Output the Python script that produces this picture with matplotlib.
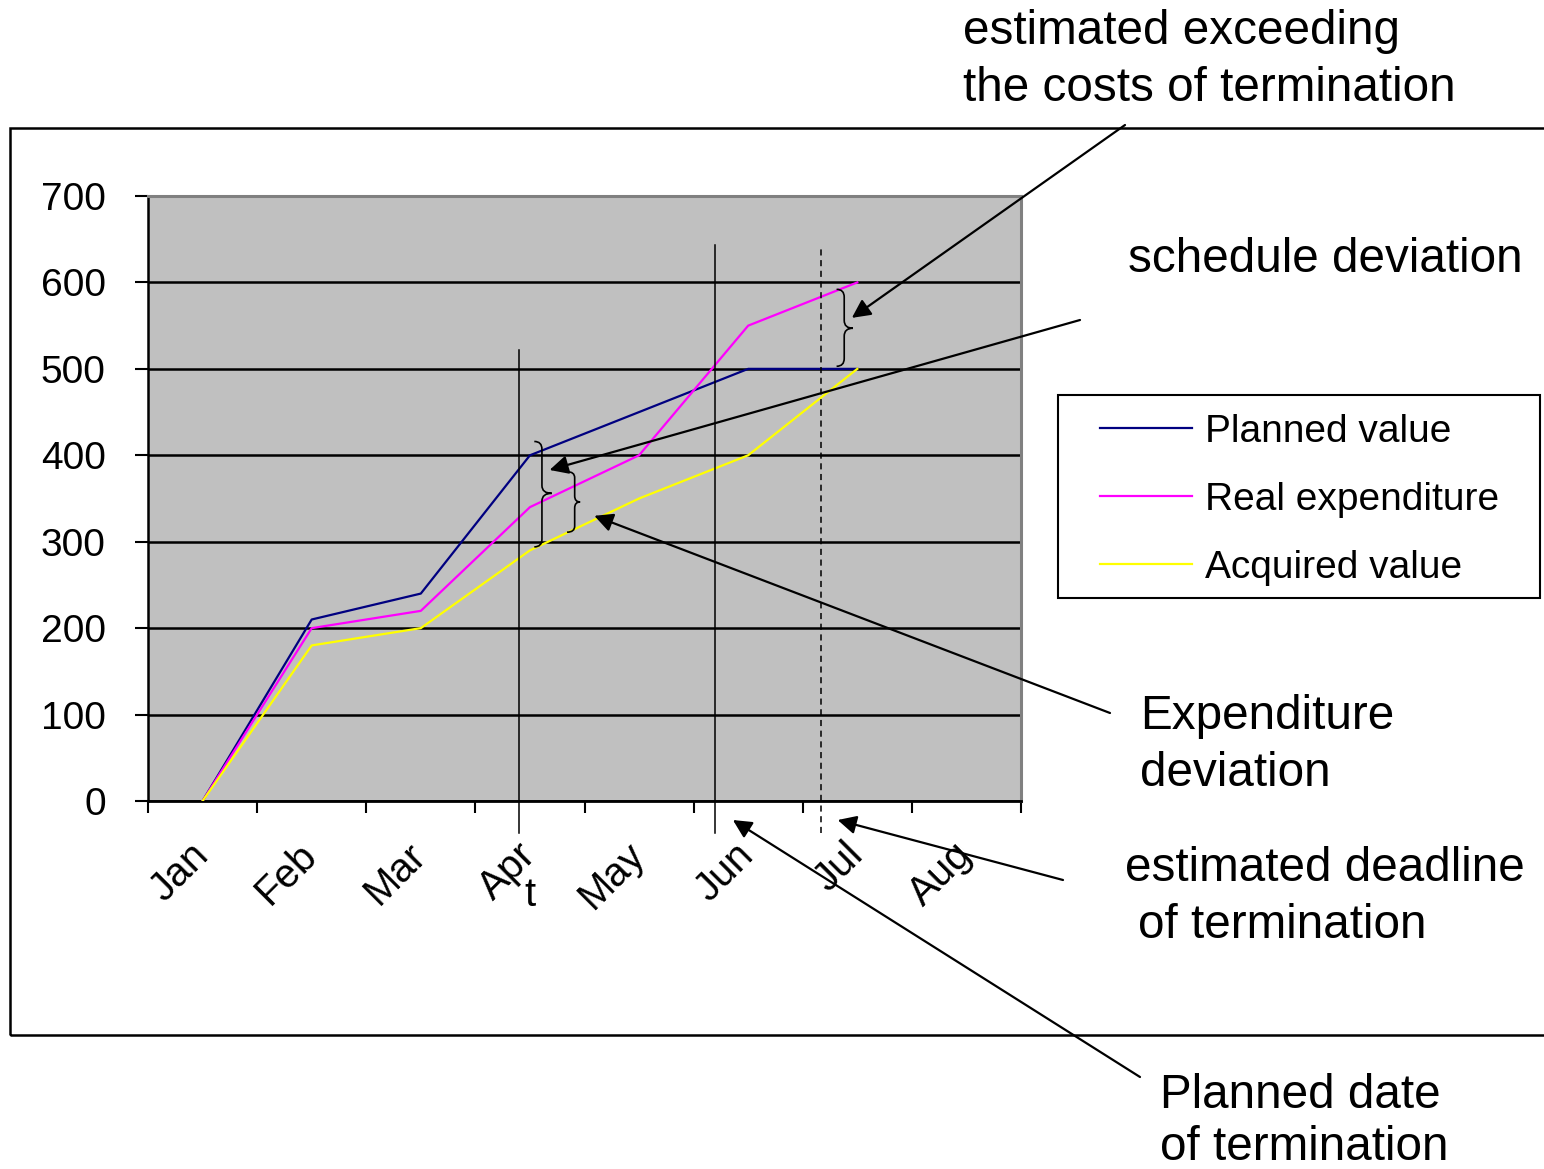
import numpy as np
import matplotlib.pyplot as plt
from matplotlib.path import Path
from matplotlib.patches import PathPatch, Rectangle
from matplotlib.transforms import ScaledTranslation

plt.rcParams['font.family'] = ['Liberation Sans', 'DejaVu Sans']

W, H = 1544, 1169

months = ['Jan', 'Feb', 'Mar', 'Apr', 'May', 'Jun', 'Jul', 'Aug']
planned = [0, 210, 240, 400, 450, 500, 500]
real = [0, 200, 220, 340, 400, 550, 600]
acquired = [0, 180, 200, 290, 350, 400, 500]
series_names = ['Planned value', 'Real expenditure', 'Acquired value']
series_colors = ['#000080', '#FF00FF', '#FFFF00']

# vertical markers: time t, planned end, estimated end (x in month units)
mark_x = [2.9, 4.7, 5.67]
mark_top = [522, 643, 643]
mark_bottom = -37


def px(x, y):
    # figure pixels measured from the top-left corner
    return (x, H - y)


def brace(ax, x, xv, xt, y0, ym, y1, r=9):
    verts = [(x, y1), (xv, y1), (xv, y1 - r),
             (xv, ym + r),
             (xv, ym), (xt, ym),
             (xv, ym), (xv, ym - r),
             (xv, y0 + r),
             (xv, y0), (x, y0)]
    codes = [Path.MOVETO, Path.CURVE3, Path.CURVE3, Path.LINETO,
             Path.CURVE3, Path.CURVE3, Path.CURVE3, Path.CURVE3,
             Path.LINETO, Path.CURVE3, Path.CURVE3]
    ax.add_patch(PathPatch(Path(verts, codes), fill=False, lw=1.2,
                           color='black', zorder=5))


fig = plt.figure(figsize=(W / 100, H / 100), dpi=100)
ax = fig.add_axes([148 / W, 1 - 801 / H, 873 / W, 605 / H])
ax.set_facecolor('#C0C0C0')

# outer chart frame
fig.patches.append(Rectangle((10 / W, 1 - 1035 / H), 1.1, 907 / H,
                             transform=fig.transFigure, fill=False,
                             lw=1.8, ec='black'))

x = np.arange(len(planned))
lines = []
for vals, name, col in zip([planned, real, acquired], series_names, series_colors):
    ln, = ax.plot(x, vals, color=col, lw=1.6, label=name, zorder=3)
    lines.append(ln)

for xv, top, i in zip(mark_x, mark_top, range(3)):
    ls = (0, (4, 3)) if i == 2 else '-'
    ax.plot([xv, xv], [mark_bottom, top], color='black', lw=1.1, ls=ls,
            clip_on=False, zorder=4)

ax.set_xlim(-0.5, 7.5)
ax.set_ylim(0, 700)
ax.set_yticks(range(0, 701, 100))
ax.yaxis.grid(True, color='black', lw=1.8)
ax.set_xticks(np.arange(-0.5, 8, 1))
ax.set_xticklabels([])
ax.set_xticks(np.arange(8), months, minor=True)
ax.tick_params(axis='x', which='major', direction='out', length=8.6, width=1.5)
ax.tick_params(axis='x', which='minor', length=0, pad=25, labelsize=29,
               labelrotation=45)
ax.tick_params(axis='y', direction='out', length=9.4, width=1.5, pad=21,
               labelsize=28)
for lbl in ax.get_xticklabels(minor=True):
    lbl.set_ha('right')
    lbl.set_transform(lbl.get_transform() + ScaledTranslation(0.13, 0, fig.dpi_scale_trans))

ax.spines['left'].set_linewidth(1.8)
ax.spines['bottom'].set_linewidth(2)
for s in ['top', 'right']:
    ax.spines[s].set_color('#808080')
    ax.spines[s].set_linewidth(2.2)

# braces showing the deviations
brace(ax, 3.04, 3.11, 3.2, 294, 356, 416)
brace(ax, 3.34, 3.41, 3.46, 311, 346, 381, r=7)
brace(ax, 5.81, 5.88, 5.96, 503, 547, 592)

ax.text(3.0, -122, 't', fontsize=29, ha='center', va='baseline')

arrow = dict(arrowstyle='-|>', color='black', lw=1.6, mutation_scale=28,
             shrinkA=0, shrinkB=0)
notes = [
    ((5.95, 559), px(1125, 125)),
    ((3.18, 383), px(1080, 320)),
    ((3.59, 330), px(1110, 713)),
    ((5.82, -22), px(1063, 880)),
    ((4.86, -22), px(1140, 1077)),
]
for tip, tail in notes:
    ax.annotate('', xy=tip, xycoords='data', xytext=tail,
                textcoords='figure pixels', arrowprops=arrow,
                annotation_clip=False)

labels = [
    (963, 44, 'estimated exceeding'),
    (963, 101, 'the costs of termination'),
    (1128, 272, 'schedule deviation'),
    (1140, 729, 'Expenditure'),
    (1140, 786, 'deviation'),
    (1125, 881, 'estimated deadline'),
    (1138, 938, 'of termination'),
    (1160, 1108, 'Planned date'),
    (1160, 1160, 'of termination'),
]
for tx, ty, s in labels:
    fig.text(tx / W, 1 - ty / H, s, fontsize=34.3, ha='left', va='baseline')

# legend with a plain square frame
fig.patches.append(Rectangle((1058 / W, 1 - 598 / H), 482 / W, 203 / H,
                             transform=fig.transFigure, fill=False,
                             lw=1.5, ec='black'))
fig.legend(handles=lines, loc='upper left', frameon=False, fontsize=28,
           bbox_to_anchor=(1100 / W, 1 - 414 / H), borderpad=0,
           borderaxespad=0, handlelength=2.36, handletextpad=0.33,
           labelspacing=0.82)

fig.savefig('out.png', dpi=100)
